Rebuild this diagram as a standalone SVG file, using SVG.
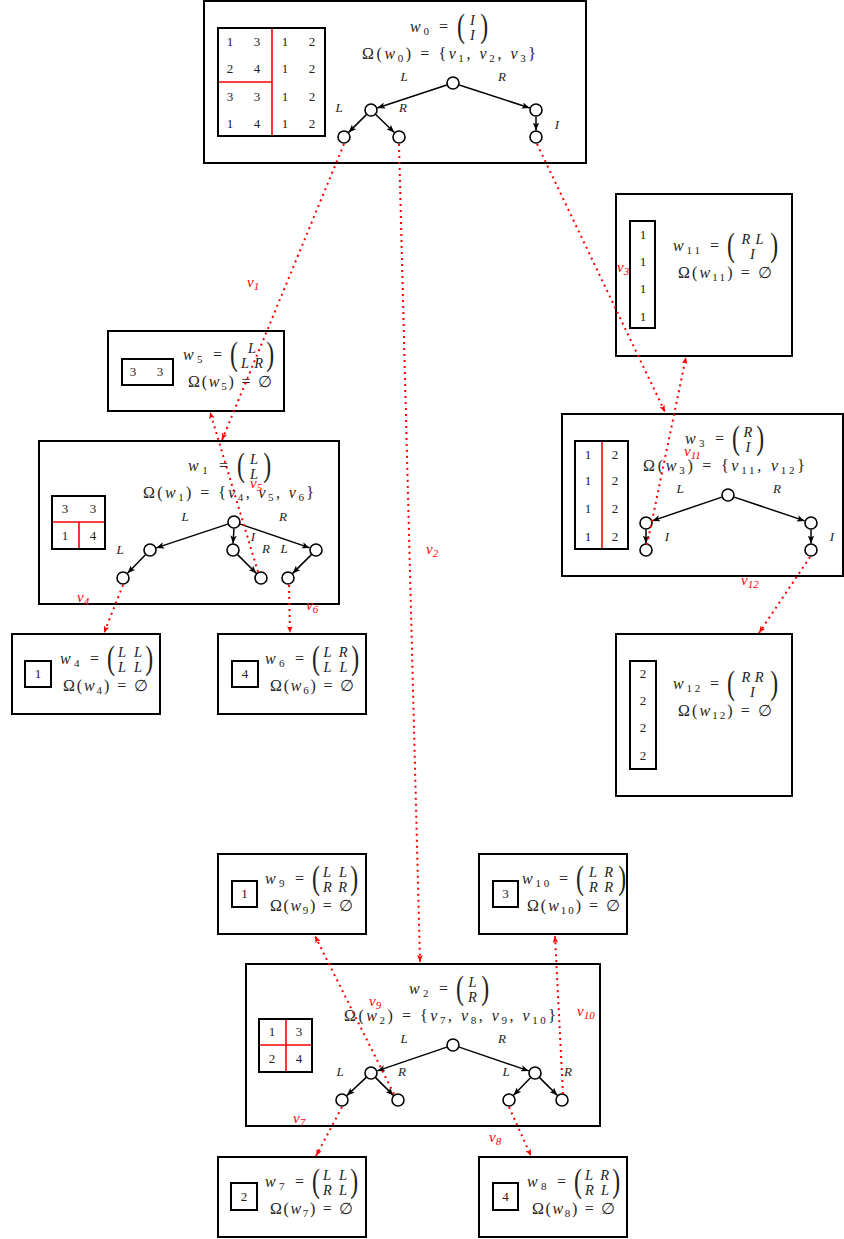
<svg xmlns="http://www.w3.org/2000/svg" width="844" height="1239" viewBox="0 0 844 1239">
<style>
.bx{fill:#fff;stroke:#000;stroke-width:2}
.tb{fill:none;stroke:#000;stroke-width:2}
.rl{stroke:#f00;stroke-width:1.6}
.nd{fill:#fff;stroke:#000;stroke-width:1.6}
.ed{stroke:#000;stroke-width:1.5;marker-end:url(#ah)}
.cn{fill:none;stroke:#f00;stroke-width:2;stroke-dasharray:2 4;marker-end:url(#rah)}
.m{font-family:"Liberation Serif","DejaVu Serif",serif;font-size:16px;fill:#222}
.i{font-style:italic}
.sb{font-size:11px}
.e{font-family:"Liberation Serif","DejaVu Serif",serif;font-size:14.5px;font-style:italic;fill:#222}
.pr{font-family:"Liberation Serif","DejaVu Serif",serif;font-size:34px;fill:#222}
.d{font-family:"Liberation Serif","DejaVu Serif",serif;font-size:13px;fill:#222;text-anchor:middle}
.lb{font-family:"Liberation Serif","DejaVu Serif",serif;font-size:13px;font-style:italic;fill:#222;text-anchor:middle}
.rv{font-family:"Liberation Serif","DejaVu Serif",serif;font-size:15px;font-style:italic;fill:#f00}
</style>
<defs>
<marker id="ah" viewBox="0 0 10 8" refX="10" refY="4" markerWidth="8" markerHeight="6.4" markerUnits="userSpaceOnUse" orient="auto"><path d="M0,0 L10,4 L0,8 L2.5,4 z" fill="#000"/></marker>
<marker id="rah" viewBox="0 0 10 8" refX="10" refY="4" markerWidth="7" markerHeight="5.6" markerUnits="userSpaceOnUse" orient="auto"><path d="M0,0 L10,4 L0,8 L2.5,4 z" fill="#f00"/></marker>
</defs>

<g id="w0">
<rect class="bx" x="204" y="1" width="382" height="162"/>
<line class="rl" x1="272" y1="28" x2="272" y2="136"/>
<line class="rl" x1="218" y1="82" x2="272" y2="82"/>
<rect class="tb" x="218" y="28" width="107" height="108"/>
<text class="d" x="230" y="46">1</text><text class="d" x="257" y="46">3</text><text class="d" x="285" y="46">1</text><text class="d" x="312" y="46">2</text>
<text class="d" x="230" y="73">2</text><text class="d" x="257" y="73">4</text><text class="d" x="285" y="73">1</text><text class="d" x="312" y="73">2</text>
<text class="d" x="230" y="101">3</text><text class="d" x="257" y="101">3</text><text class="d" x="285" y="101">1</text><text class="d" x="312" y="101">2</text>
<text class="d" x="230" y="128">1</text><text class="d" x="257" y="128">4</text><text class="d" x="285" y="128">1</text><text class="d" x="312" y="128">2</text>
<text class="m" x="410" y="31.5" textLength="38" lengthAdjust="spacing"><tspan class="i">w</tspan><tspan class="sb" dy="3">0</tspan><tspan dy="-3"> =</tspan></text>
<text class="pr" transform="translate(456.9,36.6) scale(0.7,1)">(</text>
<text class="pr" transform="translate(480.2,36.6) scale(0.7,1)">)</text>
<text class="e" x="472.5" y="24.5" text-anchor="middle">I</text>
<text class="e" x="472.5" y="39.5" text-anchor="middle">I</text>
<text class="m" x="362" y="59" textLength="174" lengthAdjust="spacing">Ω(<tspan class="i">w</tspan><tspan class="sb" dy="3">0</tspan><tspan dy="-3">) = {</tspan><tspan class="i">v</tspan><tspan class="sb" dy="3">1</tspan><tspan dy="-3">, </tspan><tspan class="i">v</tspan><tspan class="sb" dy="3">2</tspan><tspan dy="-3">, </tspan><tspan class="i">v</tspan><tspan class="sb" dy="3">3</tspan><tspan dy="-3">}</tspan></text>
<line class="ed" x1="446.8" y1="85" x2="377.2" y2="108"/>
<line class="ed" x1="459.2" y1="85" x2="529.8" y2="108"/>
<line class="ed" x1="366.4" y1="114.6" x2="348.6" y2="132.4"/>
<line class="ed" x1="375.7" y1="114.5" x2="394.3" y2="132.5"/>
<line class="ed" x1="536" y1="116.5" x2="536" y2="130.5"/>
<circle class="nd" cx="453" cy="83" r="6"/>
<circle class="nd" cx="371" cy="110" r="6"/>
<circle class="nd" cx="536" cy="110" r="6"/>
<circle class="nd" cx="344" cy="137" r="6"/>
<circle class="nd" cx="399" cy="137" r="6"/>
<circle class="nd" cx="536" cy="137" r="6"/>
<text class="lb" x="404" y="81">L</text>
<text class="lb" x="502" y="81">R</text>
<text class="lb" x="339" y="112">L</text>
<text class="lb" x="403" y="112">R</text>
<text class="lb" x="557" y="129">I</text>
</g>

<g id="w11">
<rect class="bx" x="616" y="194" width="176" height="162"/>
<rect class="tb" x="630" y="221" width="25" height="107"/>
<text class="d" x="643" y="239">1</text><text class="d" x="643" y="266">1</text><text class="d" x="643" y="293">1</text><text class="d" x="643" y="321">1</text>
<text class="m" x="673" y="250.5" textLength="46" lengthAdjust="spacing"><tspan class="i">w</tspan><tspan class="sb" dy="3">11</tspan><tspan dy="-3"> =</tspan></text>
<text class="pr" transform="translate(726.9,255.6) scale(0.7,1)">(</text>
<text class="pr" transform="translate(770.2,255.6) scale(0.7,1)">)</text>
<text class="e" x="741.5" y="243.5" textLength="22" lengthAdjust="spacing">RL</text>
<text class="e" x="752.5" y="258.5" text-anchor="middle">I</text>
<text class="m" x="678" y="278" textLength="94" lengthAdjust="spacing">Ω(<tspan class="i">w</tspan><tspan class="sb" dy="3">11</tspan><tspan dy="-3">) = ∅</tspan></text>
</g>

<g id="w5">
<rect class="bx" x="108" y="331" width="176" height="80"/>
<rect class="tb" x="122" y="359" width="51" height="26"/>
<text class="d" x="133" y="376">3</text><text class="d" x="160" y="376">3</text>
<text class="m" x="183" y="359.5" textLength="39" lengthAdjust="spacing"><tspan class="i">w</tspan><tspan class="sb" dy="3">5</tspan><tspan dy="-3"> =</tspan></text>
<text class="pr" transform="translate(229.9,364.6) scale(0.7,1)">(</text>
<text class="pr" transform="translate(266.2,364.6) scale(0.7,1)">)</text>
<text class="e" x="252" y="352.5" text-anchor="middle">L</text>
<text class="e" x="241" y="367.5" textLength="22" lengthAdjust="spacing">LR</text>
<text class="m" x="188" y="387" textLength="84" lengthAdjust="spacing">Ω(<tspan class="i">w</tspan><tspan class="sb" dy="3">5</tspan><tspan dy="-3">) = ∅</tspan></text>
</g>

<g id="w1">
<rect class="bx" x="39" y="441" width="300" height="163"/>
<line class="rl" x1="52" y1="522" x2="105" y2="522"/>
<line class="rl" x1="79" y1="522" x2="79" y2="549"/>
<rect class="tb" x="52" y="496" width="53" height="53"/>
<text class="d" x="65" y="513">3</text><text class="d" x="93" y="513">3</text>
<text class="d" x="65" y="540">1</text><text class="d" x="93" y="540">4</text>
<text class="m" x="188" y="470.5" textLength="40" lengthAdjust="spacing"><tspan class="i">w</tspan><tspan class="sb" dy="3">1</tspan><tspan dy="-3"> =</tspan></text>
<text class="pr" transform="translate(236.9,475.6) scale(0.7,1)">(</text>
<text class="pr" transform="translate(263.2,475.6) scale(0.7,1)">)</text>
<text class="e" x="254" y="463.5" text-anchor="middle">L</text>
<text class="e" x="254" y="478.5" text-anchor="middle">L</text>
<text class="m" x="143" y="498" textLength="171" lengthAdjust="spacing">Ω(<tspan class="i">w</tspan><tspan class="sb" dy="3">1</tspan><tspan dy="-3">) = {</tspan><tspan class="i">v</tspan><tspan class="sb" dy="3">4</tspan><tspan dy="-3">, </tspan><tspan class="i">v</tspan><tspan class="sb" dy="3">5</tspan><tspan dy="-3">, </tspan><tspan class="i">v</tspan><tspan class="sb" dy="3">6</tspan><tspan dy="-3">}</tspan></text>
<line class="ed" x1="227.8" y1="524.1" x2="156.2" y2="547.9"/>
<line class="ed" x1="234" y1="528.5" x2="233" y2="543.5"/>
<line class="ed" x1="240.2" y1="524.1" x2="309.8" y2="547.9"/>
<line class="ed" x1="145.5" y1="554.7" x2="127.5" y2="573.3"/>
<line class="ed" x1="237.6" y1="554.6" x2="256.4" y2="573.4"/>
<line class="ed" x1="311.4" y1="554.6" x2="292.6" y2="573.4"/>
<circle class="nd" cx="234" cy="522" r="6"/>
<circle class="nd" cx="150" cy="550" r="6"/>
<circle class="nd" cx="233" cy="550" r="6"/>
<circle class="nd" cx="316" cy="550" r="6"/>
<circle class="nd" cx="123" cy="578" r="6"/>
<circle class="nd" cx="261" cy="578" r="6"/>
<circle class="nd" cx="288" cy="578" r="6"/>
<text class="lb" x="185" y="521">L</text>
<text class="lb" x="283" y="521">R</text>
<text class="lb" x="120" y="554">L</text>
<text class="lb" x="253" y="541">I</text>
<text class="lb" x="266" y="553">R</text>
<text class="lb" x="284" y="553">L</text>
</g>

<g id="w3">
<rect class="bx" x="562" y="414" width="281" height="162"/>
<line class="rl" x1="602" y1="441" x2="602" y2="549"/>
<rect class="tb" x="575" y="441" width="53" height="108"/>
<text class="d" x="588" y="459">1</text><text class="d" x="615" y="459">2</text>
<text class="d" x="588" y="485">1</text><text class="d" x="615" y="485">2</text>
<text class="d" x="588" y="513">1</text><text class="d" x="615" y="513">2</text>
<text class="d" x="588" y="541">1</text><text class="d" x="615" y="541">2</text>
<text class="m" x="685" y="443.5" textLength="39" lengthAdjust="spacing"><tspan class="i">w</tspan><tspan class="sb" dy="3">3</tspan><tspan dy="-3"> =</tspan></text>
<text class="pr" transform="translate(731.9,448.6) scale(0.7,1)">(</text>
<text class="pr" transform="translate(756.2,448.6) scale(0.7,1)">)</text>
<text class="e" x="748" y="436.5" text-anchor="middle">R</text>
<text class="e" x="748" y="451.5" text-anchor="middle">I</text>
<text class="m" x="643" y="471" textLength="162" lengthAdjust="spacing">Ω(<tspan class="i">w</tspan><tspan class="sb" dy="3">3</tspan><tspan dy="-3">) = {</tspan><tspan class="i">v</tspan><tspan class="sb" dy="3">11</tspan><tspan dy="-3">, </tspan><tspan class="i">v</tspan><tspan class="sb" dy="3">12</tspan><tspan dy="-3">}</tspan></text>
<line class="ed" x1="721.8" y1="497.1" x2="652.2" y2="520.9"/>
<line class="ed" x1="734.2" y1="497.1" x2="804.8" y2="520.9"/>
<line class="ed" x1="646" y1="529.5" x2="646" y2="543.5"/>
<line class="ed" x1="811" y1="529.5" x2="811" y2="543.5"/>
<circle class="nd" cx="728" cy="495" r="6"/>
<circle class="nd" cx="646" cy="523" r="6"/>
<circle class="nd" cx="811" cy="523" r="6"/>
<circle class="nd" cx="646" cy="550" r="6"/>
<circle class="nd" cx="811" cy="550" r="6"/>
<text class="lb" x="680" y="493">L</text>
<text class="lb" x="777" y="493">R</text>
<text class="lb" x="667" y="541">I</text>
<text class="lb" x="832" y="541">I</text>
</g>

<g id="w4">
<rect class="bx" x="12" y="634" width="148" height="80"/>
<rect class="tb" x="25" y="661" width="26" height="26"/>
<text class="d" x="38" y="678">1</text>
<text class="m" x="60" y="663.5" textLength="39" lengthAdjust="spacing"><tspan class="i">w</tspan><tspan class="sb" dy="3">4</tspan><tspan dy="-3"> =</tspan></text>
<text class="pr" transform="translate(106.9,668.6) scale(0.7,1)">(</text>
<text class="pr" transform="translate(145.2,668.6) scale(0.7,1)">)</text>
<text class="e" x="118" y="656.5" textLength="24" lengthAdjust="spacing">LL</text>
<text class="e" x="118" y="671.5" textLength="24" lengthAdjust="spacing">LL</text>
<text class="m" x="63" y="691" textLength="85" lengthAdjust="spacing">Ω(<tspan class="i">w</tspan><tspan class="sb" dy="3">4</tspan><tspan dy="-3">) = ∅</tspan></text>
</g>

<g id="w6">
<rect class="bx" x="218" y="634" width="148" height="80"/>
<rect class="tb" x="232" y="661" width="26" height="26"/>
<text class="d" x="245" y="678">4</text>
<text class="m" x="265" y="663.5" textLength="39" lengthAdjust="spacing"><tspan class="i">w</tspan><tspan class="sb" dy="3">6</tspan><tspan dy="-3"> =</tspan></text>
<text class="pr" transform="translate(311.9,668.6) scale(0.7,1)">(</text>
<text class="pr" transform="translate(351.2,668.6) scale(0.7,1)">)</text>
<text class="e" x="323.5" y="656.5" textLength="24" lengthAdjust="spacing">LR</text>
<text class="e" x="323.5" y="671.5" textLength="24" lengthAdjust="spacing">LL</text>
<text class="m" x="270" y="691" textLength="84" lengthAdjust="spacing">Ω(<tspan class="i">w</tspan><tspan class="sb" dy="3">6</tspan><tspan dy="-3">) = ∅</tspan></text>
</g>

<g id="w12">
<rect class="bx" x="616" y="634" width="176" height="162"/>
<rect class="tb" x="630" y="661" width="26" height="108"/>
<text class="d" x="643" y="678">2</text><text class="d" x="643" y="705">2</text><text class="d" x="643" y="732">2</text><text class="d" x="643" y="760">2</text>
<text class="m" x="673" y="688.5" textLength="46" lengthAdjust="spacing"><tspan class="i">w</tspan><tspan class="sb" dy="3">12</tspan><tspan dy="-3"> =</tspan></text>
<text class="pr" transform="translate(726.9,693.6) scale(0.7,1)">(</text>
<text class="pr" transform="translate(770.2,693.6) scale(0.7,1)">)</text>
<text class="e" x="741.5" y="681.5" textLength="22" lengthAdjust="spacing">RR</text>
<text class="e" x="752.5" y="696.5" text-anchor="middle">I</text>
<text class="m" x="678" y="716" textLength="94" lengthAdjust="spacing">Ω(<tspan class="i">w</tspan><tspan class="sb" dy="3">12</tspan><tspan dy="-3">) = ∅</tspan></text>
</g>

<g id="w9">
<rect class="bx" x="218" y="854" width="148" height="80"/>
<rect class="tb" x="232" y="881" width="25" height="26"/>
<text class="d" x="244.5" y="898">1</text>
<text class="m" x="265" y="883.5" textLength="39" lengthAdjust="spacing"><tspan class="i">w</tspan><tspan class="sb" dy="3">9</tspan><tspan dy="-3"> =</tspan></text>
<text class="pr" transform="translate(311.9,888.6) scale(0.7,1)">(</text>
<text class="pr" transform="translate(350.2,888.6) scale(0.7,1)">)</text>
<text class="e" x="323" y="876.5" textLength="24" lengthAdjust="spacing">LL</text>
<text class="e" x="323" y="891.5" textLength="24" lengthAdjust="spacing">RR</text>
<text class="m" x="270" y="911" textLength="83" lengthAdjust="spacing">Ω(<tspan class="i">w</tspan><tspan class="sb" dy="3">9</tspan><tspan dy="-3">) = ∅</tspan></text>
</g>

<g id="w10">
<rect class="bx" x="479" y="854" width="148" height="80"/>
<rect class="tb" x="493" y="881" width="25" height="26"/>
<text class="d" x="505.5" y="898">3</text>
<text class="m" x="522" y="883.5" textLength="46" lengthAdjust="spacing"><tspan class="i">w</tspan><tspan class="sb" dy="3">10</tspan><tspan dy="-3"> =</tspan></text>
<text class="pr" transform="translate(575.9,888.6) scale(0.7,1)">(</text>
<text class="pr" transform="translate(618.2,888.6) scale(0.7,1)">)</text>
<text class="e" x="589" y="876.5" textLength="24" lengthAdjust="spacing">LR</text>
<text class="e" x="589" y="891.5" textLength="24" lengthAdjust="spacing">RR</text>
<text class="m" x="527" y="911" textLength="93" lengthAdjust="spacing">Ω(<tspan class="i">w</tspan><tspan class="sb" dy="3">10</tspan><tspan dy="-3">) = ∅</tspan></text>
</g>

<g id="w2">
<rect class="bx" x="246" y="964" width="354" height="162"/>
<line class="rl" x1="286" y1="1019" x2="286" y2="1072"/>
<line class="rl" x1="259" y1="1045" x2="312" y2="1045"/>
<rect class="tb" x="259" y="1019" width="53" height="53"/>
<text class="d" x="272" y="1036">1</text><text class="d" x="299" y="1036">3</text>
<text class="d" x="272" y="1063">2</text><text class="d" x="299" y="1063">4</text>
<text class="m" x="409" y="993.5" textLength="39" lengthAdjust="spacing"><tspan class="i">w</tspan><tspan class="sb" dy="3">2</tspan><tspan dy="-3"> =</tspan></text>
<text class="pr" transform="translate(455.9,998.6) scale(0.7,1)">(</text>
<text class="pr" transform="translate(481.2,998.6) scale(0.7,1)">)</text>
<text class="e" x="472.5" y="986.5" text-anchor="middle">L</text>
<text class="e" x="472.5" y="1001.5" text-anchor="middle">R</text>
<text class="m" x="344" y="1021" textLength="212" lengthAdjust="spacing">Ω(<tspan class="i">w</tspan><tspan class="sb" dy="3">2</tspan><tspan dy="-3">) = {</tspan><tspan class="i">v</tspan><tspan class="sb" dy="3">7</tspan><tspan dy="-3">, </tspan><tspan class="i">v</tspan><tspan class="sb" dy="3">8</tspan><tspan dy="-3">, </tspan><tspan class="i">v</tspan><tspan class="sb" dy="3">9</tspan><tspan dy="-3">, </tspan><tspan class="i">v</tspan><tspan class="sb" dy="3">10</tspan><tspan dy="-3">}</tspan></text>
<line class="ed" x1="446.8" y1="1047.1" x2="377.2" y2="1070.9"/>
<line class="ed" x1="459.2" y1="1047.1" x2="528.8" y2="1070.9"/>
<line class="ed" x1="366.2" y1="1077.4" x2="346.8" y2="1095.6"/>
<line class="ed" x1="375.6" y1="1077.6" x2="393.4" y2="1095.4"/>
<line class="ed" x1="530.5" y1="1077.7" x2="513.5" y2="1095.3"/>
<line class="ed" x1="539.6" y1="1077.6" x2="557.4" y2="1095.4"/>
<circle class="nd" cx="453" cy="1045" r="6"/>
<circle class="nd" cx="371" cy="1073" r="6"/>
<circle class="nd" cx="535" cy="1073" r="6"/>
<circle class="nd" cx="342" cy="1100" r="6"/>
<circle class="nd" cx="398" cy="1100" r="6"/>
<circle class="nd" cx="509" cy="1100" r="6"/>
<circle class="nd" cx="562" cy="1100" r="6"/>
<text class="lb" x="404" y="1043">L</text>
<text class="lb" x="502" y="1043">R</text>
<text class="lb" x="340" y="1076">L</text>
<text class="lb" x="402" y="1076">R</text>
<text class="lb" x="506" y="1076">L</text>
<text class="lb" x="568" y="1076">R</text>
</g>

<g id="w7">
<rect class="bx" x="218" y="1157" width="148" height="80"/>
<rect class="tb" x="231" y="1183" width="26" height="27"/>
<text class="d" x="244" y="1201">2</text>
<text class="m" x="265" y="1186.5" textLength="39" lengthAdjust="spacing"><tspan class="i">w</tspan><tspan class="sb" dy="3">7</tspan><tspan dy="-3"> =</tspan></text>
<text class="pr" transform="translate(311.9,1191.6) scale(0.7,1)">(</text>
<text class="pr" transform="translate(350.2,1191.6) scale(0.7,1)">)</text>
<text class="e" x="323" y="1179.5" textLength="24" lengthAdjust="spacing">LL</text>
<text class="e" x="323" y="1194.5" textLength="24" lengthAdjust="spacing">RL</text>
<text class="m" x="270" y="1214" textLength="83" lengthAdjust="spacing">Ω(<tspan class="i">w</tspan><tspan class="sb" dy="3">7</tspan><tspan dy="-3">) = ∅</tspan></text>
</g>

<g id="w8">
<rect class="bx" x="479" y="1157" width="148" height="80"/>
<rect class="tb" x="493" y="1183" width="25" height="27"/>
<text class="d" x="505.5" y="1201">4</text>
<text class="m" x="527" y="1186.5" textLength="39" lengthAdjust="spacing"><tspan class="i">w</tspan><tspan class="sb" dy="3">8</tspan><tspan dy="-3"> =</tspan></text>
<text class="pr" transform="translate(573.9,1191.6) scale(0.7,1)">(</text>
<text class="pr" transform="translate(612.2,1191.6) scale(0.7,1)">)</text>
<text class="e" x="585" y="1179.5" textLength="24" lengthAdjust="spacing">LR</text>
<text class="e" x="585" y="1194.5" textLength="24" lengthAdjust="spacing">RL</text>
<text class="m" x="532" y="1214" textLength="83" lengthAdjust="spacing">Ω(<tspan class="i">w</tspan><tspan class="sb" dy="3">8</tspan><tspan dy="-3">) = ∅</tspan></text>
</g>

<g id="connectors">
<path class="cn" d="M344,144 L222,440"/>
<path class="cn" d="M399,144 L420,962"/>
<path class="cn" d="M537,144 L665,412"/>
<path class="cn" d="M123,585 L104,633"/>
<path class="cn" d="M258,572 L210,412"/>
<path class="cn" d="M289,585 L290,633"/>
<path class="cn" d="M647,545 L686,357"/>
<path class="cn" d="M810,557 L759,633"/>
<path class="cn" d="M342,1107 L316,1156"/>
<path class="cn" d="M509,1107 L531,1156"/>
<path class="cn" d="M394,1094 L315,936"/>
<path class="cn" d="M563,1094 L555,936"/>
<text class="rv" x="247" y="287">v<tspan class="sb" dy="3">1</tspan></text>
<text class="rv" x="426" y="554">v<tspan class="sb" dy="3">2</tspan></text>
<text class="rv" x="617" y="272">v<tspan class="sb" dy="3">3</tspan></text>
<text class="rv" x="77" y="602">v<tspan class="sb" dy="3">4</tspan></text>
<text class="rv" x="250" y="488">v<tspan class="sb" dy="3">5</tspan></text>
<text class="rv" x="306" y="610">v<tspan class="sb" dy="3">6</tspan></text>
<text class="rv" x="684" y="456">v<tspan class="sb" dy="3">11</tspan></text>
<text class="rv" x="741" y="585">v<tspan class="sb" dy="3">12</tspan></text>
<text class="rv" x="293" y="1123">v<tspan class="sb" dy="3">7</tspan></text>
<text class="rv" x="489" y="1142">v<tspan class="sb" dy="3">8</tspan></text>
<text class="rv" x="369" y="1006">v<tspan class="sb" dy="3">9</tspan></text>
<text class="rv" x="577" y="1016">v<tspan class="sb" dy="3">10</tspan></text>
</g>
</svg>
